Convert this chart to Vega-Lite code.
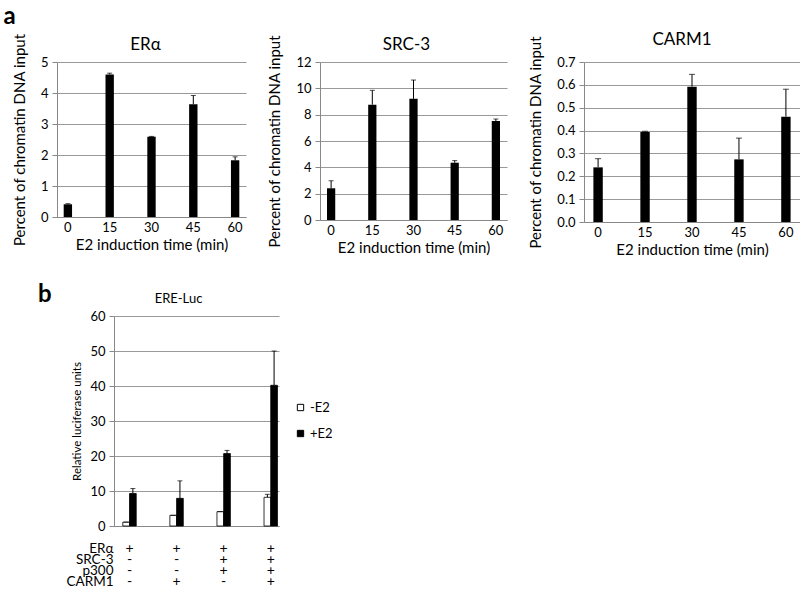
{
  "$schema": "https://vega.github.io/schema/vega-lite/v6.json",
  "padding": {"left": 3, "top": 4, "right": 0, "bottom": 0},
  "background": "white",
  "datasets": {
    "chip": [
      {"panel": "ERα", "time": "0", "value": 0.41, "top": 0.43},
      {"panel": "ERα", "time": "15", "value": 4.6, "top": 4.64},
      {"panel": "ERα", "time": "30", "value": 2.59, "top": 2.6},
      {"panel": "ERα", "time": "45", "value": 3.64, "top": 3.92},
      {"panel": "ERα", "time": "60", "value": 1.83, "top": 1.94},
      {"panel": "SRC-3", "time": "0", "value": 2.41, "top": 2.98},
      {"panel": "SRC-3", "time": "15", "value": 8.76, "top": 9.85},
      {"panel": "SRC-3", "time": "30", "value": 9.2, "top": 10.63},
      {"panel": "SRC-3", "time": "45", "value": 4.35, "top": 4.51},
      {"panel": "SRC-3", "time": "60", "value": 7.52, "top": 7.67},
      {"panel": "CARM1", "time": "0", "value": 0.239, "top": 0.277},
      {"panel": "CARM1", "time": "15", "value": 0.394, "top": 0.397},
      {"panel": "CARM1", "time": "30", "value": 0.592, "top": 0.646},
      {"panel": "CARM1", "time": "45", "value": 0.274, "top": 0.367},
      {"panel": "CARM1", "time": "60", "value": 0.461, "top": 0.581}
    ],
    "luc": [
      {"group": "g1", "e2": "-E2", "value": 1.1, "top": 1.1},
      {"group": "g1", "e2": "+E2", "value": 9.3, "top": 10.7},
      {"group": "g2", "e2": "-E2", "value": 3.05, "top": 3.05},
      {"group": "g2", "e2": "+E2", "value": 7.9, "top": 12.9},
      {"group": "g3", "e2": "-E2", "value": 4.1, "top": 4.1},
      {"group": "g3", "e2": "+E2", "value": 20.7, "top": 21.6},
      {"group": "g4", "e2": "-E2", "value": 8.2, "top": 9.05},
      {"group": "g4", "e2": "+E2", "value": 40.2, "top": 50.0}
    ],
    "table": [
      {"factor": "ERα", "group": "g1", "sign": "+"},
      {"factor": "ERα", "group": "g2", "sign": "+"},
      {"factor": "ERα", "group": "g3", "sign": "+"},
      {"factor": "ERα", "group": "g4", "sign": "+"},
      {"factor": "SRC-3", "group": "g1", "sign": "-"},
      {"factor": "SRC-3", "group": "g2", "sign": "-"},
      {"factor": "SRC-3", "group": "g3", "sign": "+"},
      {"factor": "SRC-3", "group": "g4", "sign": "+"},
      {"factor": "p300", "group": "g1", "sign": "-"},
      {"factor": "p300", "group": "g2", "sign": "-"},
      {"factor": "p300", "group": "g3", "sign": "+"},
      {"factor": "p300", "group": "g4", "sign": "+"},
      {"factor": "CARM1", "group": "g1", "sign": "-"},
      {"factor": "CARM1", "group": "g2", "sign": "+"},
      {"factor": "CARM1", "group": "g3", "sign": "-"},
      {"factor": "CARM1", "group": "g4", "sign": "+"}
    ],
    "blank": [{"t": " "}]
  },
  "vconcat": [
    {
      "title": {"text": "a", "anchor": "start", "fontSize": 24, "fontWeight": "bold", "dx": -9, "offset": 2},
      "hconcat": [
        {
          "title": {"text": "ERα", "fontSize": 17, "fontWeight": "normal", "offset": 0, "dy": 21, "dx": -6},
          "width": 189, "height": 155,
          "data": {"name": "chip"},
          "transform": [{"filter": "datum.panel === 'ERα'"}],
          "encoding": {
            "x": {"field": "time", "type": "nominal", "scale": {"paddingInner": 0.8, "paddingOuter": 0.16}, "axis": {"title": "E2 induction time (min)"}}
          },
          "layer": [
            {"mark": {"type": "bar", "color": "black"}, "encoding": {"y": {"field": "value", "type": "quantitative", "scale": {"domain": [0, 5], "nice": false}, "axis": {"title": "Percent of chromatin DNA input", "values": [0, 1, 2, 3, 4, 5]}}}},
            {"mark": {"type": "rule", "color": "black", "strokeWidth": 1}, "encoding": {"y": {"field": "value", "type": "quantitative", "axis": {"title": "Percent of chromatin DNA input", "values": [0, 1, 2, 3, 4, 5]}}, "y2": {"field": "top"}}},
            {"mark": {"type": "tick", "color": "black", "thickness": 1, "size": 5}, "encoding": {"y": {"field": "top", "type": "quantitative", "axis": {"title": "Percent of chromatin DNA input", "values": [0, 1, 2, 3, 4, 5]}}}}
          ]
        },
        {
          "title": {"text": "SRC-3", "fontSize": 17, "fontWeight": "normal", "offset": 0, "dy": 19, "dx": -7},
          "width": 187, "height": 158,
          "data": {"name": "chip"},
          "transform": [{"filter": "datum.panel === 'SRC-3'"}],
          "encoding": {
            "x": {"field": "time", "type": "nominal", "scale": {"paddingInner": 0.8, "paddingOuter": 0.17}, "axis": {"title": "E2 induction time (min)"}}
          },
          "layer": [
            {"mark": {"type": "bar", "color": "black"}, "encoding": {"y": {"field": "value", "type": "quantitative", "scale": {"domain": [0, 12], "nice": false}, "axis": {"title": "Percent of chromatin DNA input", "values": [0, 2, 4, 6, 8, 10, 12]}}}},
            {"mark": {"type": "rule", "color": "black", "strokeWidth": 1}, "encoding": {"y": {"field": "value", "type": "quantitative", "axis": {"title": "Percent of chromatin DNA input", "values": [0, 2, 4, 6, 8, 10, 12]}}, "y2": {"field": "top"}}},
            {"mark": {"type": "tick", "color": "black", "thickness": 1, "size": 5}, "encoding": {"y": {"field": "top", "type": "quantitative", "axis": {"title": "Percent of chromatin DNA input", "values": [0, 2, 4, 6, 8, 10, 12]}}}}
          ]
        },
        {
          "title": {"text": "CARM1", "fontSize": 17, "fontWeight": "normal", "offset": 0, "dy": 13, "dx": -10},
          "width": 216, "height": 160,
          "data": {"name": "chip"},
          "transform": [{"filter": "datum.panel === 'CARM1'"}],
          "encoding": {
            "x": {"field": "time", "type": "nominal", "scale": {"paddingInner": 0.8, "paddingOuter": 0.2}, "axis": {"title": "E2 induction time (min)"}}
          },
          "layer": [
            {"mark": {"type": "bar", "color": "black"}, "encoding": {"y": {"field": "value", "type": "quantitative", "scale": {"domain": [0, 0.7], "nice": false}, "axis": {"title": "Percent of chromatin DNA input", "values": [0, 0.1, 0.2, 0.3, 0.4, 0.5, 0.6, 0.7]}}}},
            {"mark": {"type": "rule", "color": "black", "strokeWidth": 1}, "encoding": {"y": {"field": "value", "type": "quantitative", "axis": {"title": "Percent of chromatin DNA input", "values": [0, 0.1, 0.2, 0.3, 0.4, 0.5, 0.6, 0.7]}}, "y2": {"field": "top"}}},
            {"mark": {"type": "tick", "color": "black", "thickness": 1, "size": 6}, "encoding": {"y": {"field": "top", "type": "quantitative", "axis": {"title": "Percent of chromatin DNA input", "values": [0, 0.1, 0.2, 0.3, 0.4, 0.5, 0.6, 0.7]}}}}
          ]
        }
      ],
      "spacing": 21
    },
    {
      "title": {"text": "b", "anchor": "start", "fontSize": 24, "fontWeight": "bold", "dx": -19, "dy": 14, "offset": 0},
      "hconcat": [
        {
          "width": 4, "height": 2,
          "data": {"name": "blank"},
          "mark": {"type": "text"},
          "encoding": {"text": {"field": "t"}}
        },
        {
          "vconcat": [
            {
              "title": {"text": "ERE-Luc", "fontSize": 13, "fontWeight": "normal", "dx": -18, "offset": 4},
              "width": 165, "height": 210,
              "data": {"name": "luc"},
              "encoding": {
                "x": {"field": "group", "type": "nominal", "scale": {"type": "band", "domain": ["g1", "s1", "g2", "s2", "g3", "s3", "g4"], "paddingInner": 0.43, "paddingOuter": 0.22, "align": 0.85}, "axis": {"title": null, "labels": false}},
                "xOffset": {"field": "e2", "type": "nominal", "scale": {"domain": ["-E2", "+E2"]}}
              },
              "layer": [
                {
                  "mark": {"type": "bar", "stroke": "black", "strokeWidth": 0.8},
                  "encoding": {
                    "y": {"field": "value", "type": "quantitative", "scale": {"domain": [0, 60], "nice": false}, "axis": {"title": "Relative luciferase units", "values": [0, 10, 20, 30, 40, 50, 60], "titleFontSize": 11.5, "labelFontSize": 13, "titlePadding": 7}},
                    "fill": {"field": "e2", "type": "nominal", "scale": {"domain": ["-E2", "+E2"], "range": ["white", "black"]},
                      "legend": {"title": null, "orient": "none", "legendX": 180, "legendY": 85, "symbolType": "square", "symbolSize": 40, "symbolStrokeColor": "black", "symbolStrokeWidth": 1, "labelFontSize": 13, "rowPadding": 12, "labelOffset": 3}}
                  }
                },
                {"mark": {"type": "rule", "color": "black", "strokeWidth": 1}, "encoding": {"y": {"field": "value", "type": "quantitative", "axis": {"title": "Relative luciferase units", "values": [0, 10, 20, 30, 40, 50, 60], "titleFontSize": 11.5, "labelFontSize": 13, "titlePadding": 7}}, "y2": {"field": "top"}}},
                {"mark": {"type": "tick", "color": "black", "thickness": 1, "size": 5}, "encoding": {"y": {"field": "top", "type": "quantitative", "axis": {"title": "Relative luciferase units", "values": [0, 10, 20, 30, 40, 50, 60], "titleFontSize": 11.5, "labelFontSize": 13, "titlePadding": 7}}}}
              ]
            },
            {
              "width": 165, "height": 44,
              "data": {"name": "table"},
              "mark": {"type": "text", "fontSize": 14, "fill": "black"},
              "encoding": {
                "x": {"field": "group", "type": "nominal", "scale": {"type": "band", "domain": ["g1", "s1", "g2", "s2", "g3", "s3", "g4"], "paddingInner": 0.43, "paddingOuter": 0.22, "align": 0.85}, "axis": null},
                "y": {"field": "factor", "type": "nominal", "scale": {"domain": ["ERα", "SRC-3", "p300", "CARM1"]}, "axis": {"title": null, "domain": false, "ticks": false, "grid": false, "labelPadding": 1, "labelFontSize": 13.5}},
                "text": {"field": "sign"}
              }
            }
          ],
          "spacing": 8,
          "resolve": {"scale": {"x": "independent", "fill": "independent"}, "legend": {"fill": "independent"}}
        }
      ],
      "spacing": 5
    }
  ],
  "spacing": 26,
  "config": {
    "font": "Lato",
    "view": {"stroke": null},
    "title": {"color": "black", "font": "Lato"},
    "axis": {"labelColor": "black", "titleColor": "black", "titleFontWeight": "normal", "labelFontSize": 13, "titleFontSize": 15, "domainColor": "#888", "tickColor": "#888", "gridColor": "#999"},
    "axisX": {"grid": false, "ticks": false, "labelAngle": 0, "labelPadding": 4, "titlePadding": 3},
    "axisY": {"grid": true, "tickSize": 5, "labelPadding": 4, "titlePadding": 13},
    "text": {"color": "black"}
  }
}
